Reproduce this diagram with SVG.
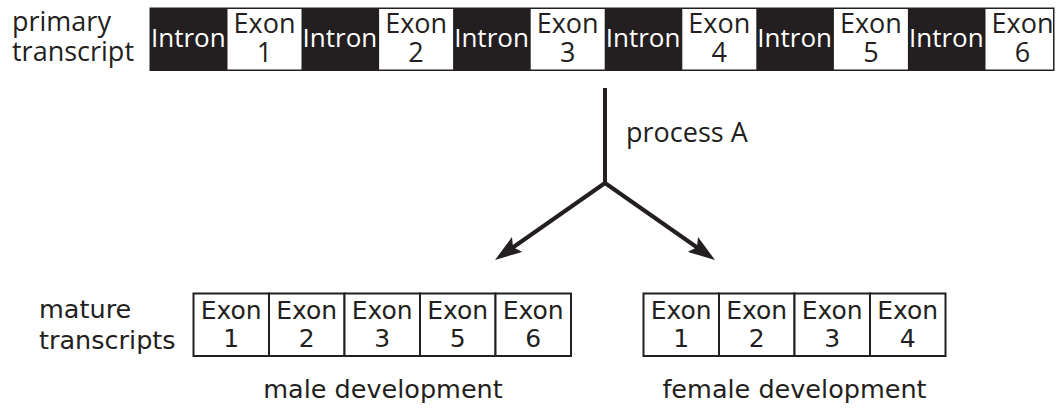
<svg xmlns="http://www.w3.org/2000/svg" width="1056" height="411" viewBox="0 0 1056 411">
<style>
.top{font-family:"Open Sans","Liberation Sans",sans-serif;font-size:27px;fill:#231f20}
.intron{font-family:"Open Sans","Liberation Sans",sans-serif;font-size:26px;fill:#ffffff;text-anchor:middle}
.ex{font-family:"Open Sans","Liberation Sans",sans-serif;font-size:27px;fill:#231f20;text-anchor:middle}
.bot{font-family:"DejaVu Sans","Liberation Sans",sans-serif;font-size:25.5px;fill:#231f20}
.bex{font-family:"DejaVu Sans","Liberation Sans",sans-serif;font-size:25px;fill:#231f20;text-anchor:middle}
.mid{text-anchor:middle}
.box{fill:#ffffff;stroke:#231f20;stroke-width:2}
.wbox{fill:#ffffff}
.conn{stroke:#231f20;stroke-width:4;fill:none}
</style>
<defs>
<marker id="ah" markerUnits="userSpaceOnUse" viewBox="0 0 27 18" markerWidth="27" markerHeight="18" refX="7" refY="9" orient="auto">
<path d="M0,0 L27,9 L0,18 L5,9 Z" fill="#231f20"/>
</marker>
</defs>

<g id="label-primary">
<text class="top" x="12" y="31">primary</text>
<text class="top" x="12" y="61">transcript</text>
</g>

<g id="primary-transcript">
<rect x="149.5" y="7.5" width="905" height="63.5" fill="#231f20"/>
<g id="p-intron1"><text class="intron" x="188.3" y="47">Intron</text></g>
<g id="p-exon1"><rect class="wbox" x="227.5" y="9" width="74" height="60.5"/><text class="ex" x="264.5" y="33">Exon</text><text class="ex" x="264.5" y="62">1</text></g>
<g id="p-intron2"><text class="intron" x="339.9" y="47">Intron</text></g>
<g id="p-exon2"><rect class="wbox" x="379.1" y="9" width="74" height="60.5"/><text class="ex" x="416.1" y="33">Exon</text><text class="ex" x="416.1" y="62">2</text></g>
<g id="p-intron3"><text class="intron" x="491.5" y="47">Intron</text></g>
<g id="p-exon3"><rect class="wbox" x="530.7" y="9" width="74" height="60.5"/><text class="ex" x="567.7" y="33">Exon</text><text class="ex" x="567.7" y="62">3</text></g>
<g id="p-intron4"><text class="intron" x="643.1" y="47">Intron</text></g>
<g id="p-exon4"><rect class="wbox" x="682.3" y="9" width="74" height="60.5"/><text class="ex" x="719.3" y="33">Exon</text><text class="ex" x="719.3" y="62">4</text></g>
<g id="p-intron5"><text class="intron" x="794.7" y="47">Intron</text></g>
<g id="p-exon5"><rect class="wbox" x="833.9" y="9" width="74" height="60.5"/><text class="ex" x="870.9" y="33">Exon</text><text class="ex" x="870.9" y="62">5</text></g>
<g id="p-intron6"><text class="intron" x="946.3" y="47">Intron</text></g>
<g id="p-exon6"><rect class="wbox" x="985.5" y="9" width="67.5" height="60.5"/><text class="ex" x="1022.5" y="33">Exon</text><text class="ex" x="1022.5" y="62">6</text></g>
</g>

<g id="connectors">
<line class="conn" x1="605" y1="88" x2="605" y2="184"/>
<polyline class="conn" points="605,183 511.4,248.5" marker-end="url(#ah)"/>
<polyline class="conn" points="605,183 698.6,248.5" marker-end="url(#ah)"/>
</g>

<g id="label-process">
<text class="top" x="626" y="142">process A</text>
</g>

<g id="label-mature">
<text class="bot" x="39" y="318">mature</text>
<text class="bot" x="39" y="349">transcripts</text>
</g>

<g id="male-transcript">
<g id="m-exon1"><rect class="box" x="193.5" y="293.5" width="75.5" height="62.5"/><text class="bex" x="231.2" y="319">Exon</text><text class="bex" x="231.2" y="347">1</text></g>
<g id="m-exon2"><rect class="box" x="269" y="293.5" width="75.5" height="62.5"/><text class="bex" x="306.7" y="319">Exon</text><text class="bex" x="306.7" y="347">2</text></g>
<g id="m-exon3"><rect class="box" x="344.5" y="293.5" width="75.5" height="62.5"/><text class="bex" x="382.2" y="319">Exon</text><text class="bex" x="382.2" y="347">3</text></g>
<g id="m-exon5"><rect class="box" x="420" y="293.5" width="75.5" height="62.5"/><text class="bex" x="457.7" y="319">Exon</text><text class="bex" x="457.7" y="347">5</text></g>
<g id="m-exon6"><rect class="box" x="495.5" y="293.5" width="75.5" height="62.5"/><text class="bex" x="533.2" y="319">Exon</text><text class="bex" x="533.2" y="347">6</text></g>
</g>

<g id="female-transcript">
<g id="f-exon1"><rect class="box" x="643.5" y="293.5" width="75.5" height="62.5"/><text class="bex" x="681.2" y="319">Exon</text><text class="bex" x="681.2" y="347">1</text></g>
<g id="f-exon2"><rect class="box" x="719" y="293.5" width="75.5" height="62.5"/><text class="bex" x="756.7" y="319">Exon</text><text class="bex" x="756.7" y="347">2</text></g>
<g id="f-exon3"><rect class="box" x="794.5" y="293.5" width="75.5" height="62.5"/><text class="bex" x="832.2" y="319">Exon</text><text class="bex" x="832.2" y="347">3</text></g>
<g id="f-exon4"><rect class="box" x="870" y="293.5" width="75.5" height="62.5"/><text class="bex" x="907.7" y="319">Exon</text><text class="bex" x="907.7" y="347">4</text></g>
</g>

<g id="label-male">
<text class="bot mid" x="383" y="398">male development</text>
</g>
<g id="label-female">
<text class="bot mid" x="794.5" y="398">female development</text>
</g>
</svg>
